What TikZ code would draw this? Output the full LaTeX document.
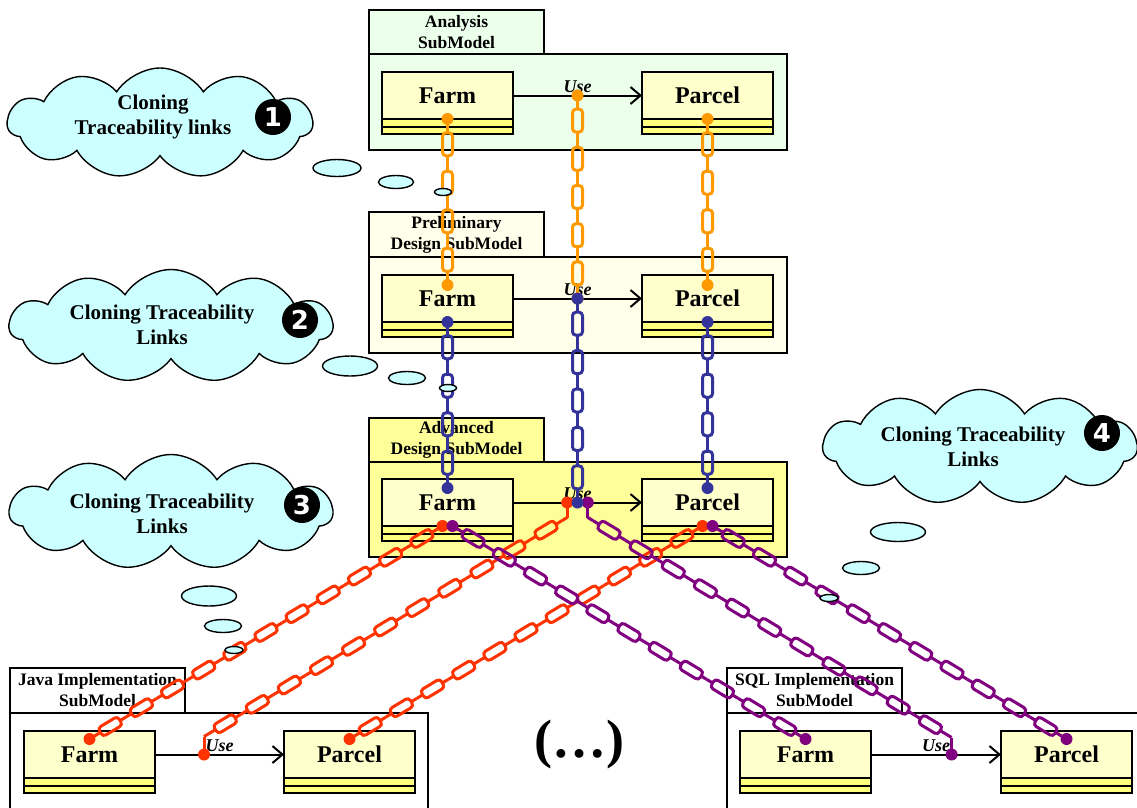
\documentclass[tikz,border=0pt]{standalone}
\usepackage{fontspec}
\setmainfont{Liberation Serif}
\newfontfamily\numfont{DejaVu Sans}
\usetikzlibrary{positioning,shapes.symbols,shapes.geometric,decorations.markings,arrows.meta}

\definecolor{anafill}{HTML}{EBFFEB}
\definecolor{prefill}{HTML}{FFFFEB}
\definecolor{advfill}{HTML}{FFFF99}
\definecolor{namefill}{HTML}{FFFFCC}
\definecolor{stripfill}{HTML}{FFFF80}
\definecolor{cloudfill}{HTML}{CCFFFF}
\definecolor{traceorange}{HTML}{FF9900}
\definecolor{traceblue}{HTML}{333399}
\definecolor{tracered}{HTML}{FF3300}
\definecolor{tracepurple}{HTML}{800080}

% class box: name part plus two empty compartments
\newcommand{\umlclass}[3]{%
  \node[classname, anchor=north west] (#1) at (#2) {#3};
  \node[classstrip, anchor=north] (#1-s1) at (#1.south) {};
  \node[classstrip, anchor=north] (#1-s2) at (#1-s1.south) {};
}

\tikzset{
  pkgtab/.style={draw, line width=2pt, outer sep=0pt, anchor=north west,
    minimum width=175pt, minimum height=44pt, align=center, inner sep=1pt,
    font=\fontsize{17.5}{21}\selectfont\bfseries},
  pkgbody/.style={draw, line width=2pt, outer sep=0pt, anchor=north west,
    minimum width=418pt, minimum height=96pt},
  classname/.style={draw, line width=2pt, fill=namefill, outer sep=0pt,
    minimum width=131pt, minimum height=47pt,
    font=\fontsize{24}{26}\selectfont\bfseries},
  classstrip/.style={draw, line width=2pt, fill=stripfill, outer sep=0pt,
    inner sep=0pt, minimum width=131pt, minimum height=7.5pt},
  usearrow/.style={line width=2pt, -{Straight Barb[length=10pt,width=17pt,line width=2pt]}},
  uselabel/.style={above, inner sep=2pt, font=\fontsize{18}{20}\selectfont\bfseries\itshape},
  tracedot/.style={circle, fill=#1, inner sep=0pt, minimum size=12pt},
  tracestub/.style={draw=#1, line width=3pt},
  % chain of links laid along a straight path
  traceline/.style={decorate, decoration={markings, mark=at position 0 with {
    \pgfmathsetmacro\tracelen{\pgfdecoratedpathlength}
    \pgfmathtruncatemacro\tracen{max(1,round((\tracelen-12)/36))}
    \pgfmathsetmacro\tracestep{(\tracelen-12)/\tracen}
    \draw[#1, line width=3pt] (0,0) -- (6,0) (\tracelen-6,0) -- (\tracelen,0);
    \foreach \k in {1,...,\tracen}{
      \pgfmathsetmacro\linkpos{6+(\k-0.5)*\tracestep}
      \draw[#1, line width=3pt, rounded corners=3.5pt]
        (\linkpos-11.5,-5) rectangle (\linkpos+11.5,5);
      \draw[#1, line width=3pt] (\linkpos-\tracestep/2,0) -- (\linkpos-11.5,0)
        (\linkpos+11.5,0) -- (\linkpos+\tracestep/2,0);
    }
  }}},
  thought/.style={cloud, cloud puffs=11, cloud puff arc=115, draw, line width=1.4pt,
    fill=cloudfill, inner sep=0pt},
  cloudtext/.style={align=center, font=\fontsize{21}{25}\selectfont\bfseries},
  stepnum/.style={circle, fill=black, inner sep=0pt, minimum size=36pt, text=white,
    font=\numfont\bfseries\fontsize{26}{26}\selectfont},
  bubble/.style={ellipse, draw, line width=1.4pt, fill=cloudfill, inner sep=0pt},
}

\begin{document}
\begin{tikzpicture}[x=1pt, y=-1pt]
\useasboundingbox (0,0) rectangle (1137,807);
\clip (0,0) rectangle (1137,807);

% packages
\node[pkgtab, fill=anafill] (ana-tab) at (369,10) {Analysis\\SubModel};
\node[pkgbody, fill=anafill] (ana-body) at (ana-tab.south west) {};
\node[pkgtab, fill=prefill, minimum height=45pt] (pre-tab) at (369,212) {Preliminary\\Design SubModel};
\node[pkgbody, fill=prefill] (pre-body) at (pre-tab.south west) {};
\node[pkgtab, fill=advfill] (adv-tab) at (369,418) {Advanced\\Design SubModel};
\node[pkgbody, fill=advfill, minimum height=95pt] (adv-body) at (adv-tab.south west) {};
\node[pkgtab, fill=white, minimum height=45pt] (java-tab) at (10,668) {Java Implementation\\SubModel};
\node[pkgbody, fill=white, minimum height=110pt] (java-body) at (java-tab.south west) {};
\node[pkgtab, fill=white, minimum height=45pt] (sql-tab) at (727,668) {SQL Implementation\\SubModel};
\node[pkgbody, fill=white, minimum width=430pt, minimum height=110pt] (sql-body) at (sql-tab.south west) {};

% classes
\umlclass{ana-farm}{382,72}{Farm}
\umlclass{ana-parcel}{642,72}{Parcel}
\umlclass{pre-farm}{382,275}{Farm}
\umlclass{pre-parcel}{642,275}{Parcel}
\umlclass{adv-farm}{382,479}{Farm}
\umlclass{adv-parcel}{642,479}{Parcel}
\umlclass{java-farm}{24,731}{Farm}
\umlclass{java-parcel}{284,731}{Parcel}
\umlclass{sql-farm}{740,731}{Farm}
\umlclass{sql-parcel}{1001,731}{Parcel}

% use dependencies
\draw[usearrow] (ana-farm) -- node[uselabel] {Use} coordinate[midway] (ana-use) (ana-parcel);
\draw[usearrow] (pre-farm) -- node[uselabel] {Use} coordinate[midway] (pre-use) (pre-parcel);
\draw[usearrow] (adv-farm) -- node[uselabel] {Use} coordinate[pos=0.42] (adv-use-r)
  coordinate[midway] (adv-use) coordinate[pos=0.58] (adv-use-p) (adv-parcel);
\draw[usearrow] (java-farm) -- node[uselabel] {Use} coordinate[pos=0.38] (java-use) (java-parcel);
\draw[usearrow] (sql-farm) -- node[uselabel] {Use} coordinate[pos=0.62] (sql-use) (sql-parcel);

% clouds
\node[thought, minimum width=305pt, minimum height=110pt] (cloud-1) at (160,123) {};
\node[cloudtext] (cloud-1-text) at (153,117) {Cloning\\Traceability links};
\node[stepnum] (step-1) at (273,117) {1};
\node[thought, minimum width=323pt, minimum height=113pt] (cloud-2) at (171,326) {};
\node[cloudtext] (cloud-2-text) at (162,325) {Cloning Traceability\\Links};
\node[stepnum] (step-2) at (300,320) {2};
\node[thought, minimum width=323pt, minimum height=115pt] (cloud-3) at (171,512) {};
\node[cloudtext] (cloud-3-text) at (162,514) {Cloning Traceability\\Links};
\node[stepnum] (step-3) at (302,505) {3};
\node[thought, minimum width=314pt, minimum height=115pt] (cloud-4) at (980,447) {};
\node[cloudtext] (cloud-4-text) at (973,447) {Cloning Traceability\\Links};
\node[stepnum] (step-4) at (1102,433) {4};

% analysis -> preliminary
\node[tracedot=traceorange] (ana-farm-o) at (ana-farm.south) {};
\node[tracedot=traceorange] (ana-use-o) at (ana-use) {};
\node[tracedot=traceorange] (ana-parcel-o) at (ana-parcel.south) {};
\node[tracedot=traceorange] (pre-farm-o) at ([yshift=-10pt]pre-farm.north) {};
\node[tracedot=traceorange] (pre-use-o) at (pre-use) {};
\node[tracedot=traceorange] (pre-parcel-o) at ([yshift=-10pt]pre-parcel.north) {};
\path[traceline=traceorange] (ana-farm-o.center) -- (pre-farm-o.center);
\path[traceline=traceorange] (ana-use-o.center) -- (pre-use-o.center);
\path[traceline=traceorange] (ana-parcel-o.center) -- (pre-parcel-o.center);

% preliminary -> advanced
\node[tracedot=traceblue] (pre-farm-b) at (pre-farm.south) {};
\node[tracedot=traceblue] (pre-use-b) at (pre-use) {};
\node[tracedot=traceblue] (pre-parcel-b) at (pre-parcel.south) {};
\node[tracedot=traceblue] (adv-farm-b) at ([yshift=-9pt]adv-farm.north) {};
\node[tracedot=traceblue] (adv-parcel-b) at ([yshift=-9pt]adv-parcel.north) {};
\path[traceline=traceblue] (pre-farm-b.center) -- (adv-farm-b.center);
\path[traceline=traceblue] (pre-use-b.center) -- (adv-use);
\path[traceline=traceblue] (pre-parcel-b.center) -- (adv-parcel-b.center);

% advanced -> java
\node[tracedot=tracered] (adv-farm-r) at ([xshift=-5pt]adv-farm.south) {};
\node[tracedot=tracered] (adv-use-rd) at (adv-use-r) {};
\node[tracedot=tracered] (adv-parcel-r) at ([xshift=-5pt]adv-parcel.south) {};
\node[tracedot=tracered] (java-farm-r) at ([yshift=-8pt]java-farm.north) {};
\node[tracedot=tracered] (java-use-r) at (java-use) {};
\node[tracedot=tracered] (java-parcel-r) at ([yshift=-8pt]java-parcel.north) {};
\coordinate (adv-use-rb) at ([yshift=-15pt]adv-use-r);
\coordinate (java-use-b) at ([yshift=18pt]java-use);
\path[traceline=tracered] (adv-farm-r.center) -- (java-farm-r.center);
\draw[tracestub=tracered] (adv-use-rd.center) -- (adv-use-rb);
\path[traceline=tracered] (adv-use-rb) -- (java-use-b);
\draw[tracestub=tracered] (java-use-b) -- (java-use-r.center);
\path[traceline=tracered] (adv-parcel-r.center) -- (java-parcel-r.center);

% advanced -> sql
\node[tracedot=tracepurple] (adv-farm-p) at ([xshift=5pt]adv-farm.south) {};
\node[tracedot=tracepurple] (adv-use-pd) at (adv-use-p) {};
\node[tracedot=tracepurple] (adv-parcel-p) at ([xshift=5pt]adv-parcel.south) {};
\node[tracedot=tracepurple] (sql-farm-p) at ([yshift=-8pt]sql-farm.north) {};
\node[tracedot=tracepurple] (sql-use-p) at (sql-use) {};
\node[tracedot=tracepurple] (sql-parcel-p) at ([yshift=-8pt]sql-parcel.north) {};
\coordinate (adv-use-pb) at ([yshift=-15pt]adv-use-p);
\coordinate (sql-use-b) at ([yshift=17pt]sql-use);
\path[traceline=tracepurple] (adv-farm-p.center) -- (sql-farm-p.center);
\draw[tracestub=tracepurple] (adv-use-pd.center) -- (adv-use-pb);
\path[traceline=tracepurple] (adv-use-pb) -- (sql-use-b);
\draw[tracestub=tracepurple] (sql-use-b) -- (sql-use-p.center);
\path[traceline=tracepurple] (adv-parcel-p.center) -- (sql-parcel-p.center);
\node[tracedot=traceblue] (adv-use-bd) at (adv-use) {};

% thought bubbles
\node[bubble, minimum width=48pt, minimum height=17pt] (cloud-1-b1) at (337,168) {};
\node[bubble, minimum width=35pt, minimum height=13pt] (cloud-1-b2) at (396,182) {};
\node[bubble, minimum width=17pt, minimum height=7pt] (cloud-1-b3) at (443,192) {};
\node[bubble, minimum width=55pt, minimum height=20pt] (cloud-2-b1) at (350,366) {};
\node[bubble, minimum width=37pt, minimum height=13pt] (cloud-2-b2) at (407,378) {};
\node[bubble, minimum width=17pt, minimum height=7pt] (cloud-2-b3) at (448,388) {};
\node[bubble, minimum width=55pt, minimum height=20pt] (cloud-3-b1) at (209,596) {};
\node[bubble, minimum width=37pt, minimum height=13pt] (cloud-3-b2) at (223,626) {};
\node[bubble, minimum width=18pt, minimum height=7pt] (cloud-3-b3) at (234,650) {};
\node[bubble, minimum width=55pt, minimum height=19pt] (cloud-4-b1) at (898,532) {};
\node[bubble, minimum width=37pt, minimum height=13pt] (cloud-4-b2) at (861,568) {};
\node[bubble, minimum width=18pt, minimum height=7pt] (cloud-4-b3) at (829,598) {};

\node[font=\fontsize{54}{54}\selectfont\bfseries] (more) at (579,744) {(…)};
\end{tikzpicture}
\end{document}
